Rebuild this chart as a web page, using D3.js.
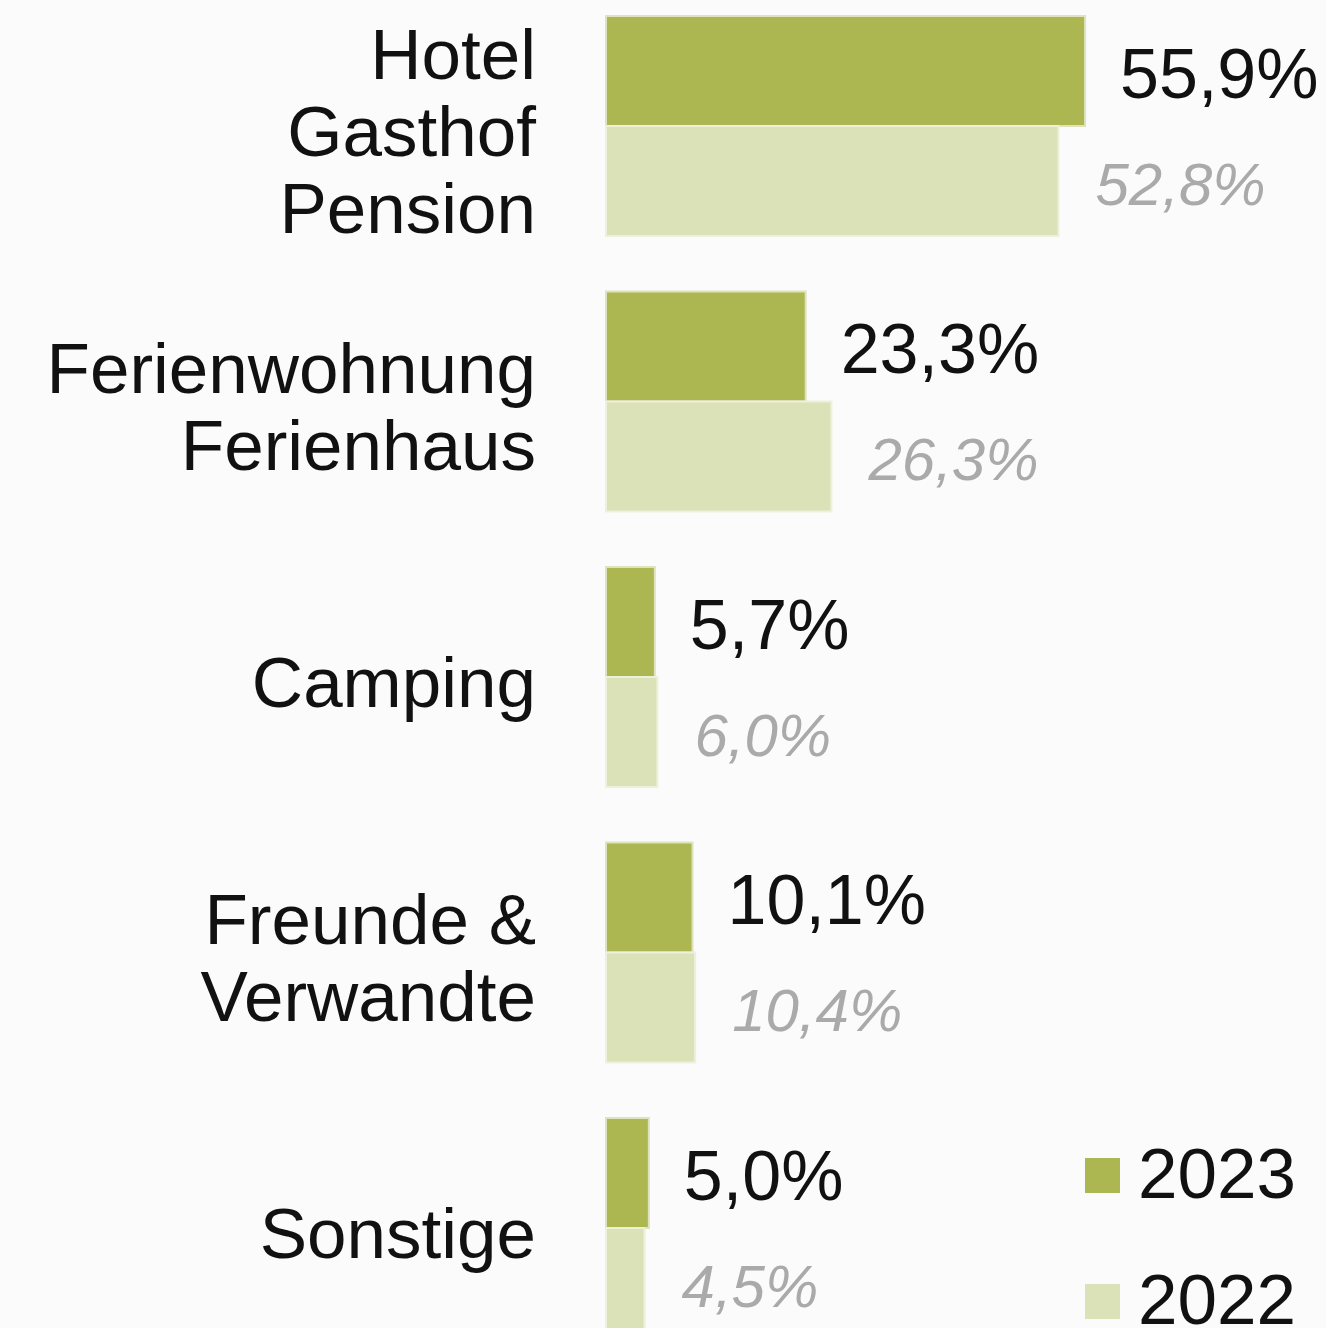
<!DOCTYPE html>
<html>
<head>
<meta charset="utf-8">
<script src="https://cdn.jsdelivr.net/npm/d3@7"></script>
<style>
	body { margin: 0; background: #fbfbfb; }
	svg { display: block; font-family: "Liberation Sans", Arial, sans-serif; }
</style>
</head>
<body>
<div id="chart"></div>
<script>
// categories (multi-line labels) and values per year
var categories = ['Hotel Gasthof Pension', 'Ferienwohnung Ferienhaus', 'Camping', 'Freunde & Verwandte', 'Sonstige'];
var categoryLines = [['Hotel', 'Gasthof', 'Pension'], ['Ferienwohnung', 'Ferienhaus'], ['Camping'], ['Freunde &', 'Verwandte'], ['Sonstige']];
var years = ['2023', '2022'];
var values2023 = [55.9, 23.3, 5.7, 10.1, 5.0];
var values2022 = [52.8, 26.3, 6.0, 10.4, 4.5];

var width = 1326, height = 1328;
var colors = { '2023': '#adb752', '2022': '#dce2b8' };

var svg = d3.select('#chart').append('svg')
	.attr('width', width)
	.attr('height', height);

svg.append('rect')
	.attr('width', width).attr('height', height)
	.attr('fill', '#fbfbfb');

var x = d3.scaleLinear().domain([0, 100]).range([606, 606 + 857]);
var y = d3.scaleBand().domain(categories).range([16, 1338]).paddingInner(0.2015).paddingOuter(0);
var ySub = d3.scaleBand().domain(years).range([0, y.bandwidth()]);

var rows = categories.map(function(c, i){
	return { cat: c, lines: categoryLines[i], '2023': values2023[i], '2022': values2022[i] };
});

var groups = svg.selectAll('g.group')
	.data(rows)
	.enter()
	.append('g')
	.attr('class', 'group')
	.attr('transform', function(d){ return 'translate(0,' + y(d.cat) + ')'; });

// category labels, right aligned
groups.append('text')
	.attr('text-anchor', 'end')
	.attr('font-size', 71)
	.attr('fill', '#111')
	.each(function(d){
		var t = d3.select(this);
		var lh = 77.5;
		var first = y.bandwidth()/2 + 30 - (d.lines.length - 1)*lh/2;
		d.lines.forEach(function(line, k){
			t.append('tspan')
				.attr('x', 536)
				.attr('y', first + k*lh)
				.text(line);
		});
	});

years.forEach(function(yr){
	groups.append('rect')
		.attr('x', x(0))
		.attr('y', ySub(yr))
		.attr('width', function(d){ return x(d[yr]) - x(0); })
		.attr('height', ySub.bandwidth())
		.attr('fill', colors[yr])
		.attr('stroke', yr == '2023' ? '#dfe3bd' : '#eef0dc')
		.attr('stroke-width', 2);

	groups.append('text')
		.attr('x', function(d){ return x(d[yr]) + (yr == '2023' ? 35 : 37); })
		.attr('y', ySub(yr) + ySub.bandwidth()/2 + (yr == '2023' ? 27 : 24))
		.attr('font-size', yr == '2023' ? 70 : 60)
		.attr('font-style', yr == '2023' ? 'normal' : 'italic')
		.attr('fill', yr == '2023' ? '#111' : '#aaaaaa')
		.text(function(d){ return d[yr].toFixed(1).replace('.', ',') + '%'; });
});

// legend
var legend = svg.selectAll('g.legend')
	.data(years)
	.enter()
	.append('g')
	.attr('class', 'legend')
	.attr('transform', function(d, i){ return 'translate(1085,' + (1158 + i*126) + ')'; });
legend.append('rect')
	.attr('width', 35).attr('height', 35)
	.attr('fill', function(d){ return colors[d]; });
legend.append('text')
	.attr('x', 53)
	.attr('y', 40)
	.attr('font-size', 71)
	.attr('fill', '#111')
	.text(function(d){ return d; });
</script>
</body>
</html>
